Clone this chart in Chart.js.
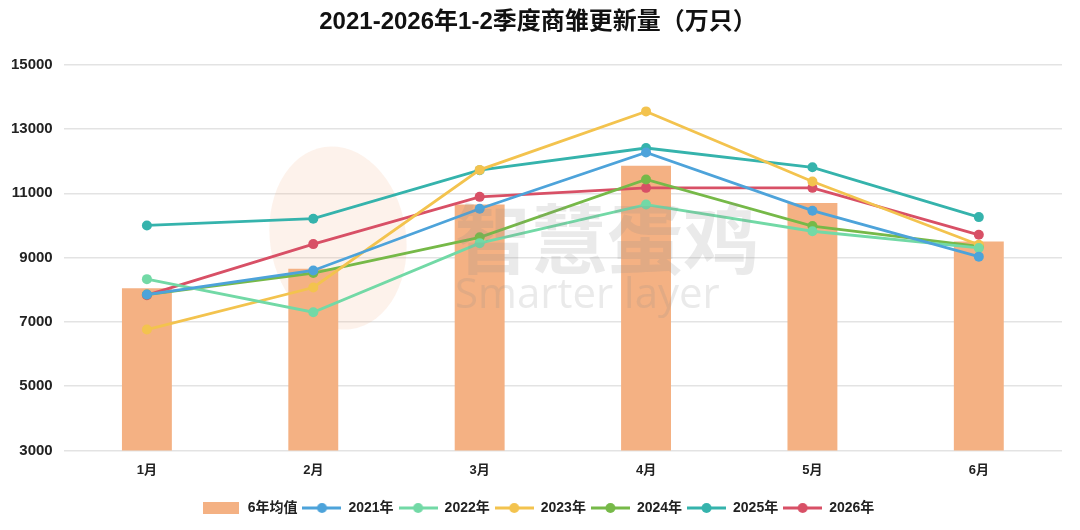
<!DOCTYPE html>
<html>
<head>
<meta charset="utf-8">
<script src="https://cdn.jsdelivr.net/npm/chart.js@4/dist/chart.umd.min.js"></script>
<style>
html,body{margin:0;padding:0;background:#fff;}
#wrap{width:1080px;height:530px;position:relative;}
</style>
</head>
<body>
<div id="wrap"><canvas id="c" width="1080" height="530"></canvas></div>
<script>
const categories = ["1月","2月","3月","4月","5月","6月"];
const avg6 = [8050, 8650, 10650, 11860, 10700, 9500];
const y2021 = [7850, 8600, 10520, 12270, 10460, 9030];
const y2022 = [8330, 7300, 9450, 10650, 9820, 9300];
const y2023 = [6760, 8070, 11730, 13550, 11370, 9400];
const y2024 = [7850, 8520, 9630, 11430, 9980, 9350];
const y2025 = [10000, 10210, 11720, 12410, 11810, 10260];
const y2026 = [7830, 9420, 10890, 11170, 11170, 9710];
const yTicks = [3000, 5000, 7000, 9000, 11000, 13000, 15000];

const FONT = "'Liberation Sans', 'Noto Sans CJK SC', sans-serif";
const barColor = '#F4B183';
const lineSeries = [
  {label:'2021年', data:y2021, color:'#4DA3DA'},
  {label:'2022年', data:y2022, color:'#72D9A6'},
  {label:'2023年', data:y2023, color:'#F3C34E'},
  {label:'2024年', data:y2024, color:'#76B948'},
  {label:'2025年', data:y2025, color:'#35B3AC'},
  {label:'2026年', data:y2026, color:'#D85066'}
];

function lineIcon(color){
  const c = document.createElement('canvas');
  c.width = 39; c.height = 12;
  const g = c.getContext('2d');
  g.strokeStyle = color; g.lineWidth = 3;
  g.beginPath(); g.moveTo(0,6); g.lineTo(39,6); g.stroke();
  g.fillStyle = color;
  g.beginPath(); g.arc(19.5,6,5,0,Math.PI*2); g.fill();
  return c;
}
function boxIcon(color){
  const c = document.createElement('canvas');
  c.width = 36; c.height = 12;
  const g = c.getContext('2d');
  g.fillStyle = color; g.fillRect(0,0,36,12);
  return c;
}

const watermark = {
  id:'watermark',
  beforeDatasetsDraw(chart){
    const g = chart.ctx;
    g.save();
    g.fillStyle = 'rgba(244,177,131,0.16)';
    g.beginPath(); g.ellipse(338, 238, 68, 92, -0.15, 0, Math.PI*2); g.fill();
    g.restore();
  },
  afterDatasetsDraw(chart){
    const g = chart.ctx;
    g.save();
    g.fillStyle = 'rgba(140,140,140,0.18)';
    g.textAlign = 'left'; g.textBaseline = 'alphabetic';
    g.font = "bold 76px 'Noto Sans CJK SC'";
    g.fillText('智慧蛋鸡', 455, 268);
    g.font = "42px 'Open Sans', 'Noto Sans', sans-serif";
    g.fillText('Smarter layer', 455, 308);
    g.restore();
  }
};

const datasets = [{
  type:'bar', label:'6年均值', data:avg6, backgroundColor:barColor,
  barPercentage:0.3, categoryPercentage:1, order:10,
  legendIcon: boxIcon(barColor)
}];
lineSeries.forEach((s,i)=>{
  datasets.push({
    type:'line', label:s.label, data:s.data, borderColor:s.color, backgroundColor:s.color,
    borderWidth:2.8, pointRadius:5, pointHoverRadius:5, pointBackgroundColor:s.color,
    pointBorderWidth:0, tension:0, order:i, legendIcon: lineIcon(s.color)
  });
});

new Chart(document.getElementById('c'), {
  data:{labels:categories, datasets},
  options:{
    responsive:false, animation:false,
    layout:{padding:{left:0, right:4, top:2, bottom:5}},
    plugins:{
      title:{display:true, text:'2021-2026年1-2季度商雏更新量（万只）', color:'#111',
        font:{family:FONT, size:24, weight:'bold'}, padding:{top:6, bottom:28}},
      tooltip:{enabled:false},
      legend:{position:'bottom',
        labels:{usePointStyle:true, pointStyleWidth:39, padding:5, color:'#222',
          font:{family:FONT, size:14, weight:'bold'},
          generateLabels(chart){
            return chart.data.datasets.filter(d=>d.legendIcon).map((d,i)=>({
              text:d.label, pointStyle:d.legendIcon, fillStyle:d.backgroundColor,
              strokeStyle:d.backgroundColor, lineWidth:0, hidden:false, datasetIndex:i,
              fontColor:'#222'
            }));
          }}}
    },
    scales:{
      x:{offset:true, grid:{display:false}, border:{display:false},
        afterFit(axis){ axis.height = axis.height + 14; },
        ticks:{color:'#222', font:{family:FONT, size:13, weight:'bold'}, padding:4}},
      y:{min:3000, max:15000, border:{display:false},
        afterBuildTicks(axis){ axis.ticks = yTicks.map(v=>({value:v})); },
        grid:{color:'#e3e3e3', lineWidth:1.5, drawTicks:false},
        ticks:{color:'#222', font:{family:FONT, size:15, weight:'bold'}, padding:11,
          callback:(v)=>String(v)}},
      yRight:{position:'right', display:true, min:0, max:1,
        grid:{display:false}, border:{display:false}, ticks:{display:false},
        afterFit(axis){ axis.width = 14; }}
    }
  },
  plugins:[watermark]
});
</script>
</body>
</html>
